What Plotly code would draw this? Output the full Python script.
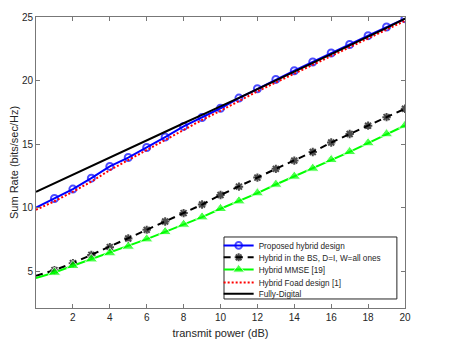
import plotly.graph_objects as go

# transmit power (dB)
power_db = list(range(0, 21))

# sum rate (bits/sec/Hz)
proposed = [10.0, 10.72, 11.46, 12.32, 13.24, 13.94, 14.73, 15.55, 16.39, 17.09, 17.82,
            18.62, 19.35, 20.09, 20.77, 21.46, 22.17, 22.84, 23.53, 24.21, 24.87]
hybrid_bs = [4.63, 5.08, 5.63, 6.28, 6.89, 7.57, 8.25, 8.91, 9.57, 10.24, 10.99,
             11.65, 12.36, 13.05, 13.7, 14.38, 15.12, 15.79, 16.45, 17.12, 17.78]
hybrid_mmse = [4.45, 4.89, 5.42, 5.94, 6.42, 6.94, 7.52, 8.09, 8.67, 9.25, 9.91,
               10.51, 11.14, 11.82, 12.45, 13.08, 13.76, 14.39, 15.08, 15.79, 16.46]
hybrid_foad = [9.83, 10.5, 11.25, 12.05, 12.95, 13.75, 14.5, 15.3, 16.15, 16.9, 17.62,
               18.4, 19.15, 19.85, 20.55, 21.25, 21.95, 22.62, 23.3, 24.0, 24.7]
fully_digital = [11.25, 11.93, 12.6, 13.28, 13.95, 14.62, 15.3, 15.97, 16.64, 17.3, 17.95,
                 18.63, 19.32, 20.0, 20.7, 21.4, 22.08, 22.77, 23.45, 24.15, 24.88]

names = ["Proposed hybrid design", "Hybrid in the BS, D=I, W=all ones",
         "Hybrid MMSE [19]", "Hybrid Foad design [1]", "Fully-Digital"]

x_ticks = list(range(2, 21, 2))
y_ticks = [5, 10, 15, 20, 25]

# no marker on the first point (it sits on the axis in the original)
def sizes(s):
    return [0] + [s] * (len(power_db) - 1)

fig = go.Figure()
fig.add_trace(go.Scatter(
    x=power_db, y=proposed, name=names[0], mode="lines+markers", legend="legend",
    line=dict(color="#0000ff", width=2),
    marker=dict(symbol="circle-open", size=sizes(7), color="#0000ff", line=dict(width=2)),
))
fig.add_trace(go.Scatter(
    x=power_db, y=hybrid_bs, name=names[1], mode="lines+markers", legend="legend2",
    line=dict(color="black", width=2, dash="7px,5px"),
    marker=dict(symbol="asterisk-open", size=sizes(7), color="black", line=dict(width=2, color="black")),
))
fig.add_trace(go.Scatter(
    x=power_db, y=hybrid_mmse, name=names[2], mode="lines+markers", legend="legend3",
    line=dict(color="#00ff00", width=2),
    marker=dict(symbol="triangle-up", size=sizes(11), color="#00ff00"),
))
fig.add_trace(go.Scatter(
    x=power_db, y=hybrid_foad, name=names[3], mode="lines", legend="legend4",
    line=dict(color="#ff0000", width=2, dash="2px,2px"),
))
fig.add_trace(go.Scatter(
    x=power_db, y=fully_digital, name=names[4], mode="lines", legend="legend5",
    line=dict(color="black", width=2),
))

# one small legend per entry so rows sit as tight as in the MATLAB figure
leg_font = dict(family="Liberation Sans, Arial", size=8.2, color="#262626")
leg_x = 0.495
row_y = [0.215, 0.174, 0.132, 0.088, 0.049]
leg = {}
for i, yy in enumerate(row_y):
    key = "legend" if i == 0 else f"legend{i + 1}"
    leg[key] = dict(x=leg_x, y=yy, xanchor="left", yanchor="middle",
                    bgcolor="rgba(0,0,0,0)", borderwidth=0, font=leg_font,
                    itemclick=False)

# the page body adds an 8px offset, so the figure is 8px smaller each way
fig.update_layout(
    width=441, height=339,
    margin=dict(l=28, r=44, t=9, b=39),
    paper_bgcolor="white", plot_bgcolor="white",
    font=dict(family="Liberation Sans, Arial", size=10, color="#262626"),
    showlegend=True,
    **leg,
    shapes=[dict(type="rect", xref="paper", yref="paper", layer="above",
                 x0=0.5095, x1=0.978, y0=0.031, y1=0.244,
                 fillcolor="white", line=dict(color="#262626", width=1))],
    xaxis=dict(range=[0, 20], tickvals=x_ticks, ticks="inside", ticklen=4,
               tickcolor="#777", showline=True, linecolor="#777", linewidth=1,
               mirror="ticks", showgrid=False, zeroline=False, automargin=False,
               title=dict(text="transmit power (dB)", font=dict(size=11), standoff=7)),
    yaxis=dict(range=[2.1, 25], tickvals=y_ticks, ticks="inside", ticklen=4,
               tickcolor="#777", showline=True, linecolor="#777", linewidth=1,
               mirror="ticks", showgrid=False, zeroline=False, automargin=False,
               title=dict(text="Sum Rate (bits/sec/Hz)", font=dict(size=11), standoff=9)),
)

fig.write_html("out.html")
